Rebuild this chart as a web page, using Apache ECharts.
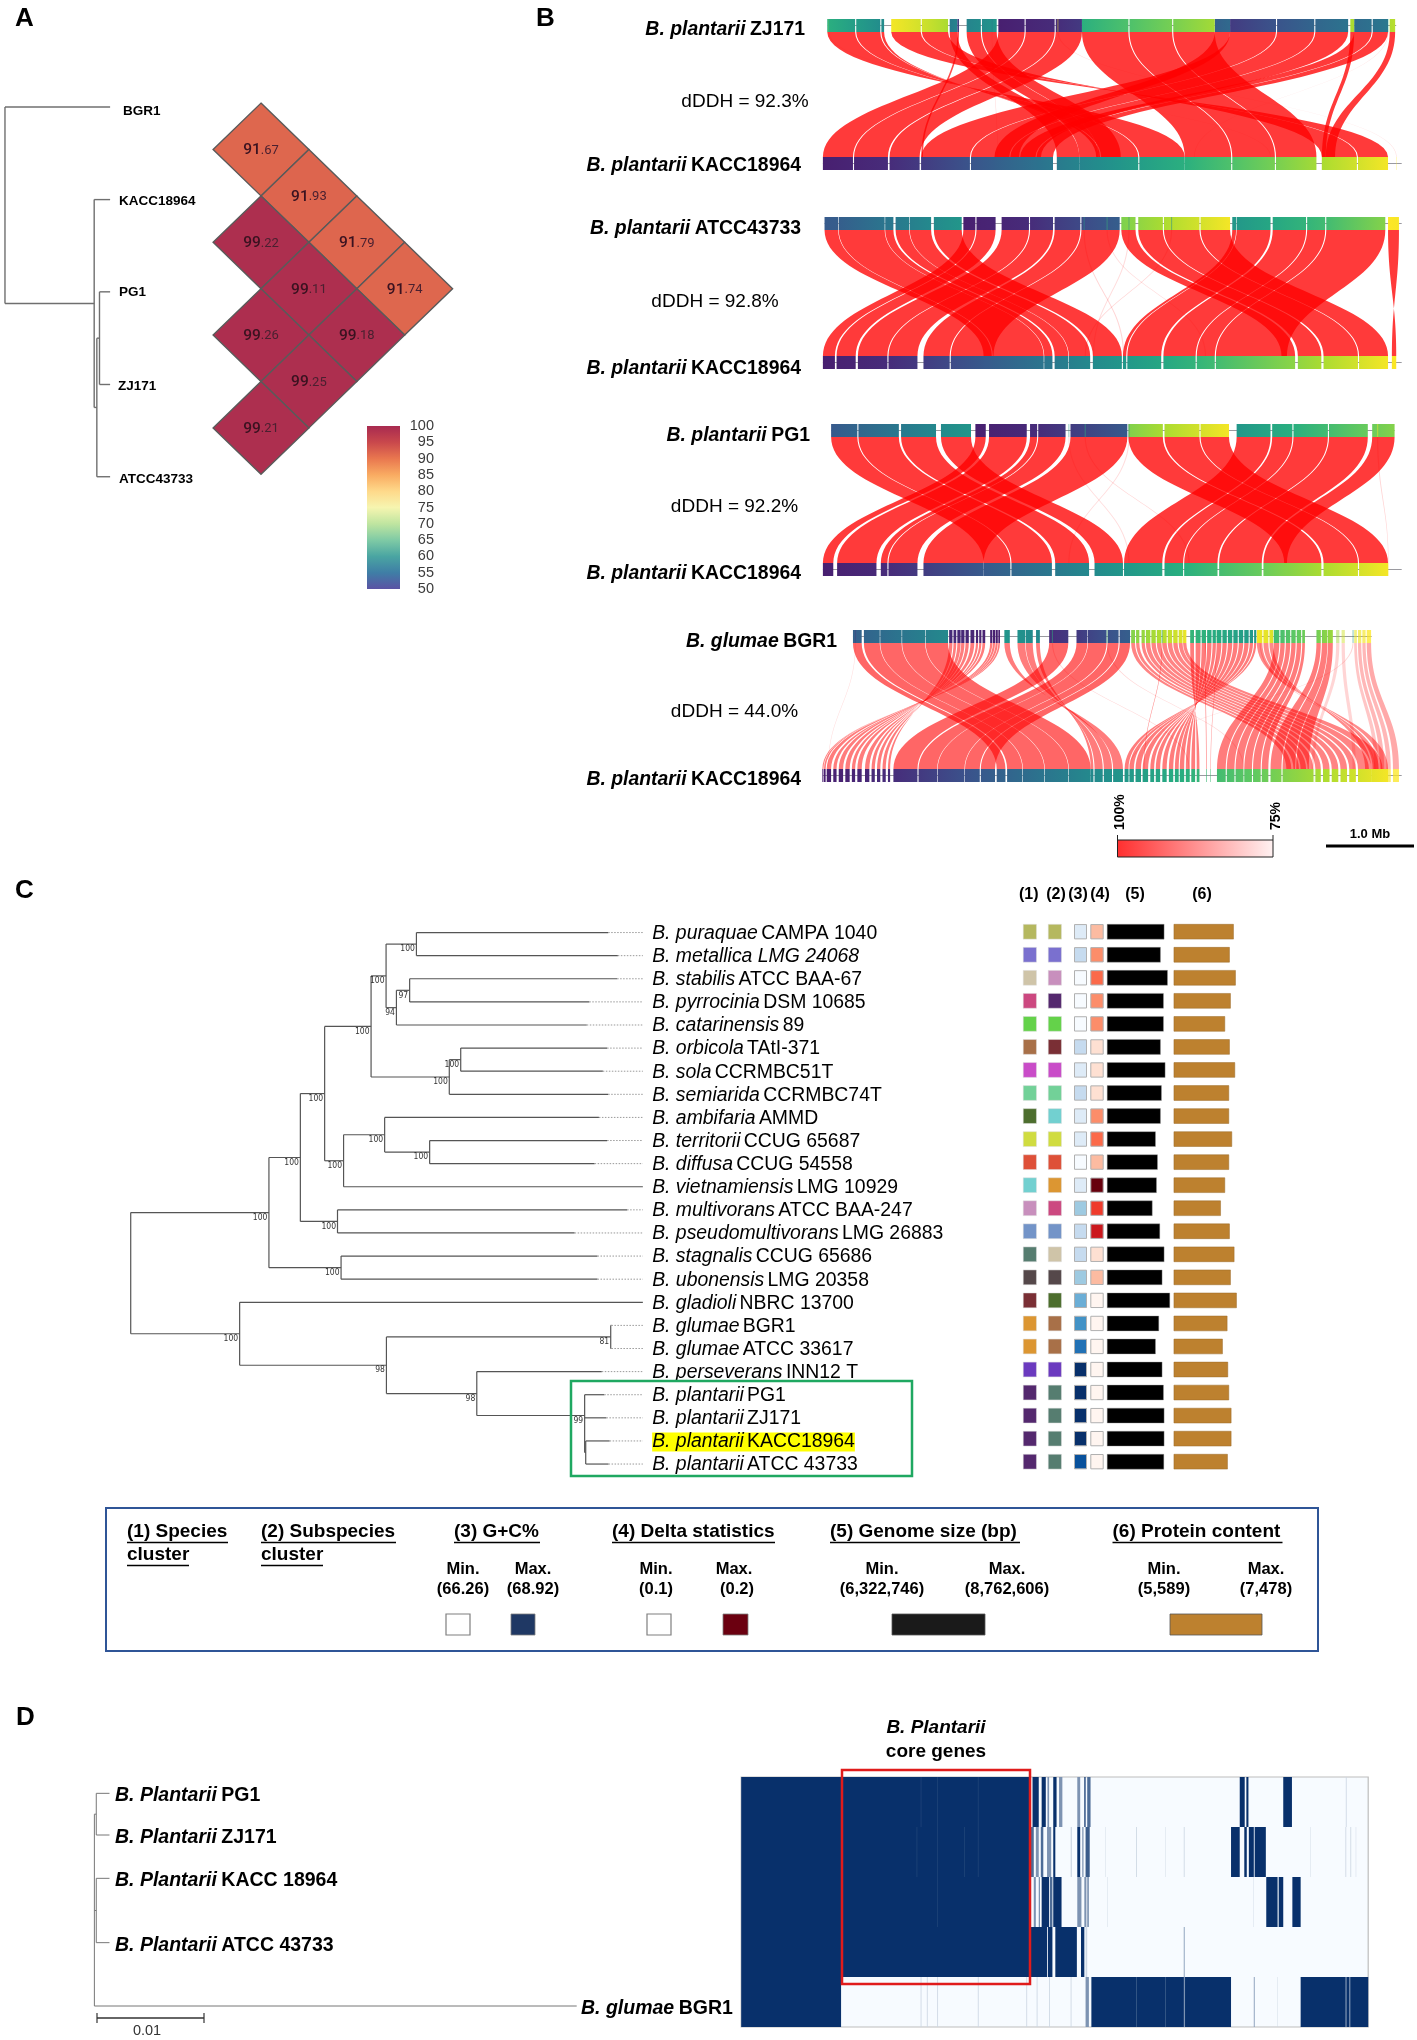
<!DOCTYPE html>
<html><head><meta charset="utf-8">
<script src="https://cdn.jsdelivr.net/npm/echarts@6/dist/echarts.min.js"></script>
<style>html,body{margin:0;padding:0;background:#fff}#c{width:1417px;height:2040px}</style>
</head><body><div id="c"></div>
<script>
/* ---------- Panel A ---------- */
const strainsA = ['BGR1','KACC18964','PG1','ZJ171','ATCC43733'];
const ani = [[0,1,91.67],[0,2,91.93],[0,3,91.79],[0,4,91.74],[1,2,99.22],[1,3,99.11],[1,4,99.18],[2,3,99.26],[2,4,99.25],[3,4,99.21]];
const spectral = ['#5b53a4','#3f7ea6','#4aa5a2','#7fcaa5','#bfe5a0','#f6f5b0','#fed98a','#f9ab62','#e9774f','#c9484c','#a82a50'];
const l = (x,row)=>({x,row});
const n = (x,s,c,y)=>({x,s,c,y});
const treeA = n(15,null,[ {x:332,row:262}, n(284,null,[ {x:332,row:489}, n(292,null,[ n(300,null,[{x:332,row:715},{x:332,row:942}]), {x:332,row:1168} ]) ]) ]);
/* ---------- Panel B: blocks = [query start, query end, reference start, reference end, % identity] (genome bins) ---------- */
const ribbonsZJ171 = [
 [802,850,481,536,99],[852,905,538,600,99],[907,955,603,658,99],
 [489,540,1143,1060,99],[542,586,1058,990,99],[588,593,988,981,99],
 [713,727,909,950,99],[744,770,950,985,99],[772,799,985,1026,99],
 [606,660,1515,1460,99],[662,710,1458,1394,99],
 [1226,1310,661,750,99],[1312,1380,752,822,99],[1382,1442,824,880,99],[1198,1226,795,840,99],[1453,1485,842,870,99],[1487,1515,872,902,99],
 [955,1040,1143,1228,99],[1042,1120,1230,1308,99],[1122,1198,1310,1384,99],
 [1446,1453,1394,1401,99],[1518,1528,1401,1418,99],[727,730,661,664,97],
 [491,492,1300,1301,78],[910,912,1530,1531,77],[1515,1516,1160,1161,77],[790,791,800,801,77]];
const ribbonsATCC = [
 [738,760,481,503,99],[762,797,506,541,99],[808,858,545,599,99],[860,902,601,654,99],[905,952,665,713,99],[954,1024,715,793,99],
 [484,509,775,790,99],[510,594,792,885,99],[595,610,886,901,99],[614,639,905,930,99],[640,679,931,970,99],[684,735,975,1028,99],
 [1027,1053,1320,1345,99],[1058,1103,1350,1393,99],[1105,1170,1397,1460,99],[1172,1226,1462,1515,99],
 [1230,1237,1030,1036,99],[1238,1300,1038,1100,99],[1304,1365,1104,1163,99],[1367,1400,1165,1198,99],[1402,1510,1200,1330,99],
 [1515,1535,1530,1522,99],
 [1118,1120,960,962,78],[958,960,1030,1032,78],[1040,1042,975,977,77],[1000,1002,1180,1182,77]];
const ribbonsPG1 = [
 [760,779,481,500,99],[785,854,507,579,99],[860,873,587,599,99],[875,925,601,654,99],[934,1038,665,775,99],
 [496,544,775,824,99],[546,620,826,900,99],[624,688,906,968,99],[697,752,978,1030,99],
 [1040,1103,1325,1393,99],[1106,1170,1397,1460,99],[1172,1224,1462,1515,99],
 [1238,1300,1032,1102,99],[1303,1340,1106,1140,99],[1342,1405,1142,1203,99],[1407,1478,1206,1284,99],[1486,1527,1287,1330,99],
 [1040,1042,930,932,77],[960,962,1150,1152,78],[1495,1497,1515,1516,78],[930,932,1040,1042,77]];
const ribbonsBGR1 = [
 [536,552,799,815,93],[556,585,818,846,93],[586,625,847,886,93],[626,668,887,930,93],[669,710,931,971,93],
 [712,718,604,600,90],[720,725,596,590,90],[727,733,586,580,90],[734,740,576,570,90],[742,748,566,558,90],[751,758,552,544,90],[761,765,540,534,90],[767,771,530,522,90],[773,778,518,510,90],[787,791,506,500,90],[792,796,496,488,90],[797,801,486,483,90],[802,805,482,480,90],
 [895,930,610,654,93],[945,965,656,690,93],[966,1000,691,740,93],[1002,1022,741,768,93],[1024,1043,770,796,93],
 [813,823,1030,1012,90],[837,851,1010,995,90],[852,865,993,978,90],[871,878,976,971,90],
 [1153,1160,1170,1165,90],[1163,1172,1162,1155,90],[1174,1182,1152,1145,90],[1184,1192,1142,1134,90],[1194,1200,1132,1125,90],[1202,1210,1122,1114,90],[1212,1220,1110,1102,90],[1222,1230,1098,1090,90],[1232,1240,1087,1080,90],[1242,1250,1076,1066,90],[1252,1260,1063,1053,90],[1262,1268,1050,1042,90],[1270,1274,1040,1033,90],
 [1045,1052,1329,1338,89],[1054,1060,1342,1352,89],[1064,1070,1355,1365,89],[1072,1080,1368,1378,89],[1082,1090,1382,1392,89],[1092,1100,1396,1408,89],[1102,1110,1412,1424,89],[1112,1120,1428,1440,89],[1122,1130,1444,1456,89],[1132,1139,1460,1480,89],[1140,1146,1484,1505,89],
 [1275,1285,1515,1502,88],[1287,1296,1498,1487,88],[1298,1305,1484,1473,88],
 [1306,1316,1202,1218,90],[1318,1326,1220,1234,90],[1328,1336,1236,1250,90],[1338,1346,1252,1266,90],[1348,1356,1268,1282,90],[1358,1363,1284,1296,90],[1384,1392,1300,1320,90],[1394,1404,1322,1345,90],[1405,1414,1347,1370,90],
 [1453,1458,1490,1497,80],[1460,1466,1500,1508,82],[1468,1474,1512,1520,82],[1476,1484,1524,1535,84],[1420,1426,1375,1380,78],[1430,1436,1450,1456,78],
 [1180,1181,1182,1183,92],[1200,1201,1190,1191,85],[1000,1002,1250,1252,78],[540,541,490,491,77],[900,902,1150,1152,78],[1101,1102,1068,1069,88],[1280,1282,1490,1492,80],[1450,1452,1040,1042,78]];
const backbones = [[490,1530,481,1540],[484,1540,481,1540],[496,1527,481,1540],[536,1485,481,1540]];
const viridis = ['#481f70','#472d7b','#3b528b','#2c728e','#21918c','#28ae80','#5ec962','#addc30','#fde725'];
/* ---------- Panel C ---------- */
const species = ['B. puraquae','B. metallica LMG 24068','B. stabilis','B. pyrrocinia','B. catarinensis','B. orbicola','B. sola','B. semiarida','B. ambifaria','B. territorii','B. diffusa','B. vietnamiensis','B. multivorans','B. pseudomultivorans','B. stagnalis','B. ubonensis','B. gladioli','B. glumae','B. glumae','B. perseverans','B. plantarii','B. plantarii','B. plantarii','B. plantarii'];
const strains = ['CAMPA 1040','','ATCC BAA-67','DSM 10685','89','TAtI-371','CCRMBC51T','CCRMBC74T','AMMD','CCUG 65687','CCUG 54558','LMG 10929','ATCC BAA-247','LMG 26883','CCUG 65686','LMG 20358','NBRC 13700','BGR1','ATCC 33617','INN12 T','PG1','ZJ171','KACC18964','ATCC 43733'];
const treeC = n(86,null,[
 n(473,100,[
  n(561,100,[
   n(629,100,[
    n(759,100,[
     n(801,100,[ n(886,100,[l(1423,0),l(1450,1)]), n(830,94,[ n(867,97,[l(1448,2),l(1370,3)]), l(1363,4) ]) ]),
     n(978,100,[ n(1010,100,[l(1420,5),l(1408,6)]), l(1423,7) ])
    ]),
    n(682,100,[ n(797,100,[ l(1397,8), n(923,100,[l(1420,9),l(1385,10)]) ]), l(1520,11) ])
   ]),
   n(665,100,[l(1476,12),l(1329,13)])
  ]),
  n(675,100,[l(1393,14),l(1393,15)])
 ]),
 n(391,100,[ l(1520,16),
  n(802,98,[ n(1430,81,[l(1432,17),l(1432,18)]),
   n(1055,98,[ l(1405,19), n(1357,99,[ l(1412,20), l(1418,21), n(1360,null,[l(1427,22),l(1424,23)]) ],20.9) ])
  ])
 ])
]);
const cluster1 = ['#b5b85f','#7a70cf','#cfc4a8','#cc4880','#64d24a','#a87048','#c94cc8','#72d198','#4d6e2e','#d0dc40','#de5038','#72d0d0','#c88fbd','#7394c8','#567d70','#55484a','#7a2f35','#dc9632','#dc9632','#6b3abf','#54286e','#54286e','#54286e','#54286e'];
const cluster2 = ['#b5b85f','#7a70cf','#c88fbd','#54286e','#64d24a','#7a2f35','#c94cc8','#72d198','#72d0d0','#d0dc40','#de5038','#dc9632','#cc4880','#7394c8','#cfc4a8','#55484a','#4d6e2e','#a87048','#a87048','#6b3abf','#567d70','#567d70','#567d70','#567d70'];
const gcPalette = ['#f7fbff','#deebf7','#c6dbef','#9ecae1','#6baed6','#4292c6','#2171b5','#08519c','#08306b'];
const gcLevel = [1,2,0,0,0,2,1,2,1,1,0,1,3,2,2,3,4,5,6,8,8,8,8,7];
const deltaPalette = ['#fff5f0','#fee0d2','#fcbba1','#fc8d6a','#fb6a4a','#ef3b2c','#cb181d','#67000d'];
const deltaLevel = [2,3,4,3,3,1,1,1,3,4,2,7,5,6,1,2,0,0,0,0,0,0,0,0];
const genomeSizeMb = [7.97,7.46,8.44,7.88,7.88,7.46,8.11,7.60,7.46,6.77,7.05,6.91,6.32,7.37,7.97,7.69,8.76,7.23,6.77,7.69,7.88,7.97,7.97,7.93];
const proteinCount = [7122,6647,7359,6766,6093,6647,7280,6568,6568,6924,6568,6093,5589,6647,7201,6766,7478,6370,5816,6449,6568,6845,6845,6410];
/* ---------- Panel D ---------- */
const treeD = n(200,null,[ n(204,null,[{x:232,row:280},{x:232,row:405}]), n(204,null,[{x:232,row:535},{x:232,row:728}]), {x:1222,row:918} ]);
const coreRuns = [
 [[27,722,1],[460,462,.9],[500,502,.9],[598,600,.9],[730,745,1],[752,762,1],[766,770,.5],[780,788,1],[794,802,.5],[838,845,.5],[855,858,1],[862,870,.7],[1230,1242,1],[1246,1251,1],[1335,1356,1],[1486,1488,.2]],
 [[27,722,1],[450,452,.9],[500,502,.9],[565,567,.9],[598,600,.9],[722,733,.7],[738,745,.5],[750,756,.7],[765,775,.5],[780,785,1],[822,825,.2],[838,845,1],[850,853,.5],[858,868,.8],[905,906,.2],[980,982,.2],[1050,1051,.2],[1095,1097,.2],[1209,1230,1],[1241,1247,1],[1252,1264,1],[1266,1293,1],[1400,1401,.2],[1485,1487,.2],[1497,1499,.2],[1510,1511,.2]],
 [[27,722,1],[500,502,.9],[722,725,.7],[733,738,.5],[745,748,.5],[752,770,1],[772,778,.7],[780,800,1],[838,848,.5],[855,860,.5],[862,866,.5],[910,911,.2],[1262,1263,.2],[1294,1322,1],[1324,1335,1],[1320,1321,.2],[1357,1377,1]],
 [[27,722,1],[722,765,1],[767,778,1],[785,837,1],[847,855,1],[858,862,.2],[1095,1097,.5]],
 [[27,268,1],[460,462,.2],[475,477,.2],[500,502,.2],[598,600,.2],[715,717,.2],[740,742,.2],[770,772,.2],[822,824,.2],[858,866,.5],[872,1209,1],[980,982,.8],[1050,1052,.8],[1095,1098,.5],[1264,1266,.5],[1320,1321,.2],[1377,1540,1],[1485,1488,.5],[1494,1497,.5]]
];
const coreLevels = {1:'#08306b',.9:'#1f4478',.8:'#3a5c8a',.7:'#4d6c97',.5:'#7d93b2',.2:'#ccd6e3'};

/* ---------- helpers ---------- */
const F = 'Liberation Sans';
const grids=[], xAxes=[], yAxes=[], series=[], graphic=[];
function addGrid(left,top,width,height,x,y,extra){
  const i=grids.length;
  grids.push(Object.assign({left,top,width,height,show:false,containLabel:false},extra||{}));
  xAxes.push(Object.assign({gridIndex:i,type:'value',show:false,scale:false},x));
  yAxes.push(Object.assign({gridIndex:i,type:'value',show:false,scale:false},y));
  return i;
}
function layoutTree(t){
  const H=[],V=[],tips=[],sup=[];
  (function walk(nd){
    if(!nd.c){nd.y=nd.row;tips.push(nd);return nd.y;}
    const ys=nd.c.map(walk);
    if(nd.y===undefined) nd.y=(ys[0]+ys[ys.length-1])/2;
    V.push([nd.x,ys[0],nd.x,ys[ys.length-1]]);
    nd.c.forEach((c,i)=>H.push([nd.x,ys[i],c.x,ys[i]]));
    if(nd.s) sup.push(nd);
    return nd.y;
  })(t);
  return {segs:H.concat(V),tips,sup};
}
function treeSeries(g,segs,color,w){
  series.push({type:'custom',coordinateSystem:'cartesian2d',xAxisIndex:g,yAxisIndex:g,silent:true,clip:false,animation:false,
    data:segs,renderItem:(p,api)=>{
      const a=api.coord([api.value(0),api.value(1)]),b=api.coord([api.value(2),api.value(3)]);
      return {type:'line',shape:{x1:a[0],y1:a[1],x2:b[0],y2:b[1]},style:{stroke:color,lineWidth:w,fill:null}};
    }});
}
function T(x,y,text,o){
  o=o||{};
  graphic.push({type:'text',x,y:y+(o.rich?1.5:0),rotation:o.rot||0,silent:true,z:50,style:{text,font:o.font||('16px '+F),fill:o.fill||'#000',align:o.align||'left',verticalAlign:'middle',rich:o.rich}});
}
function R(x,y,w,h,fill,stroke,lw){
  graphic.push({type:'rect',silent:true,z:40,shape:{x,y,width:w,height:h},style:{fill:fill||'none',stroke:stroke||'none',lineWidth:lw||0}});
}
function Ln(x1,y1,x2,y2,c,w){
  graphic.push({type:'line',silent:true,z:40,shape:{x1,y1,x2,y2},style:{stroke:c,lineWidth:w}});
}
function hex2(c){return [parseInt(c.slice(1,3),16),parseInt(c.slice(3,5),16),parseInt(c.slice(5,7),16)];}
function vir(pos){
  const t=Math.max(0,Math.min(1,(pos-481)/(1530-481)))*(viridis.length-1);
  const i=Math.min(viridis.length-2,Math.floor(t)),f=t-i,a=hex2(viridis[i]),b=hex2(viridis[i+1]);
  return 'rgb('+a.map((v,k)=>Math.round(v+(b[k]-v)*f)).join(',')+')';
}

/* ---------- Panel A draw ---------- */
const layA=layoutTree(treeA);
const gTreeA=addGrid(0,0,520,640,{min:0,max:1568},{min:0,max:1568,inverse:true});
treeSeries(gTreeA,layA.segs,'#6f6f6f',1.4);
const gDia=addGrid(261,149.5,143.7,278.4,{min:0,max:3},{min:0,max:6,inverse:true});
const diaIdx=series.length;
series.push({type:'custom',coordinateSystem:'cartesian2d',xAxisIndex:gDia,yAxisIndex:gDia,silent:true,clip:false,animation:false,
  dimensions:['u','v','ani'],
  data:ani.map(d=>[d[1]-d[0]-1,d[0]+d[1]-1,d[2]]),
  renderItem:(p,api)=>{
    const u=api.value(0),v=api.value(1),c=api.coord([u,v]);
    const pts=[api.coord([u,v-1]),api.coord([u+1,v]),api.coord([u,v+1]),api.coord([u-1,v])];
    const s=api.value(2).toFixed(2).split('.');
    return {type:'group',children:[
      {type:'polygon',shape:{points:pts},style:{fill:api.visual('color'),stroke:'#5a5a5a',lineWidth:1.4}},
      {type:'text',style:{x:c[0],y:c[1]+1,text:'{a|'+s[0]+'}{b|.'+s[1]+'}',align:'center',verticalAlign:'middle',rich:{a:{fontFamily:'Roboto',fontSize:15.5,fill:'#3a1220',fontWeight:500},b:{fontFamily:'Roboto',fontSize:13,fill:'#4a2030'}}}}
    ]};
  }});
addGrid(367,426,33,163,{min:0,max:1},{min:50,max:100,interval:5,show:true,position:'right',axisLine:{show:false},axisTick:{show:false},splitLine:{show:false},
  axisLabel:{show:true,align:'right',margin:34,fontFamily:F,fontSize:14.5,color:'#3c3c3c',showMinLabel:true,showMaxLabel:true}});
graphic.push({type:'rect',silent:true,z:40,shape:{x:367,y:426,width:33,height:163},style:{fill:new echarts.graphic.LinearGradient(0,1,0,0,spectral.map((c,i)=>({offset:i/(spectral.length-1),color:c})))}});
[[119,201,'KACC18964'],[123,111,'BGR1'],[119,292,'PG1'],[118,386,'ZJ171'],[119,479,'ATCC43733']].forEach(d=>T(d[0],d[1],d[2],{font:'bold 13.5px '+F}));

/* ---------- Panel B draw ---------- */
const rows=[
 {top:32,h:125,blocks:ribbonsZJ171,back:backbones[0]},
 {top:230,h:126,blocks:ribbonsATCC,back:backbones[1]},
 {top:437,h:126,blocks:ribbonsPG1,back:backbones[2]},
 {top:643,h:126,blocks:ribbonsBGR1,back:backbones[3]}];
function alphaOf(id){return 0.08+(id-75)/25*0.72;}
rows.forEach(r=>{
  const g=addGrid(560,r.top,857,r.h,{min:0,max:1568},{min:0,max:1,inverse:true});
  series.push({type:'custom',coordinateSystem:'cartesian2d',xAxisIndex:g,yAxisIndex:g,silent:true,clip:false,animation:false,
    data:r.blocks,renderItem:(p,api)=>{
      const ts=api.value(0),te=api.value(1),bs=api.value(2),be=api.value(3),id=api.value(4);
      const curve=(a,b)=>{const out=[];for(let i=0;i<=36;i++){const t=i/36,
        y=3*t*(1-t)*(1-t)*.45+3*t*t*(1-t)*.55+t*t*t,
        x=a+(b-a)*(3*t*t*(1-t)+t*t*t);out.push(api.coord([x,y]));}return out;};
      const pts=curve(ts,bs).concat(curve(te,be).reverse());
      return {type:'polygon',shape:{points:pts},style:{fill:'rgba(255,0,0,'+alphaOf(id)+')',stroke:null}};
    }});
  series.push({type:'custom',coordinateSystem:'cartesian2d',xAxisIndex:g,yAxisIndex:g,silent:true,clip:false,animation:false,z:3,
    data:[r.back],renderItem:(p,api)=>{
      const a=api.coord([api.value(0),0]),b=api.coord([api.value(1),0]),c=api.coord([api.value(2),1]),d=api.coord([api.value(3),1]);
      return {type:'group',children:[
        {type:'line',shape:{x1:a[0],y1:a[1]-6.5,x2:b[0],y2:b[1]-6.5},style:{stroke:'#9a9aa0',lineWidth:1}},
        {type:'line',shape:{x1:c[0],y1:c[1]+6.5,x2:d[0],y2:d[1]+6.5},style:{stroke:'#9a9aa0',lineWidth:1}}]};
    }});
  series.push({type:'custom',coordinateSystem:'cartesian2d',xAxisIndex:g,yAxisIndex:g,silent:true,clip:false,animation:false,z:4,
    data:r.blocks,renderItem:(p,api)=>{
      const ts=api.value(0),te=api.value(1),bs=api.value(2),be=api.value(3),id=api.value(4);
      const op=id>=88?1:0.35+(id-75)/13*0.6;
      const a=api.coord([ts,0]),b=api.coord([te,0]),c=api.coord([bs,1]),d=api.coord([be,1]);
      const gT=new echarts.graphic.LinearGradient(0,0,1,0,[{offset:0,color:vir(bs)},{offset:1,color:vir(be)}]);
      const gB=new echarts.graphic.LinearGradient(0,0,1,0,[{offset:0,color:vir(Math.min(bs,be))},{offset:1,color:vir(Math.max(bs,be))}]);
      return {type:'group',children:[
        {type:'rect',shape:{x:a[0],y:a[1]-13,width:Math.max(b[0]-a[0],.6),height:13},style:{fill:gT,opacity:op}},
        {type:'rect',shape:{x:Math.min(c[0],d[0]),y:c[1],width:Math.max(Math.abs(d[0]-c[0]),.6),height:13},style:{fill:gB,opacity:op}}]};
    }});
});
const richB={i:{font:'italic bold 19.4px '+F,fill:'#000'},b:{font:'bold 19.4px '+F,fill:'#000'}};
[[805,28,'B. plantarii','ZJ171'],[801,164,'B. plantarii','KACC18964'],[801,227,'B. plantarii','ATCC43733'],[801,367,'B. plantarii','KACC18964'],
 [810,434,'B. plantarii','PG1'],[801,572,'B. plantarii','KACC18964'],[837,640,'B. glumae','BGR1'],[801,778,'B. plantarii','KACC18964']
].forEach(d=>T(d[0],d[1],'{i|'+d[2]+'} {b|'+d[3]+'}',{align:'right',rich:richB}));
[[745,102,'92.3'],[715,302,'92.8'],[734.5,507,'92.2'],[734.5,712,'44.0']].forEach(d=>T(d[0],d[1],'dDDH = '+d[2]+'%',{align:'center',font:'19px '+F}));
graphic.push({type:'rect',silent:true,z:40,shape:{x:1117.5,y:840,width:155.5,height:17},style:{stroke:'#222',lineWidth:1,fill:new echarts.graphic.LinearGradient(0,0,1,0,[{offset:0,color:'#ff2f2f'},{offset:1,color:'#fff2f2'}])}});
Ln(1117.5,835,1117.5,840,'#222',1);Ln(1273,835,1273,840,'#222',1);
T(1120,830,'100%',{rot:Math.PI/2,font:'bold 14px '+F});
T(1276,830,'75%',{rot:Math.PI/2,font:'bold 14px '+F});
T(1370,834,'1.0 Mb',{align:'center',font:'bold 13px '+F});
Ln(1326,846,1414,846,'#000',3);

/* ---------- Panel C draw ---------- */
const layC=layoutTree(treeC);
const gTreeC=addGrid(100,921,560,554.6,{min:0,max:1568},{min:-0.5,max:23.5,inverse:true});
treeSeries(gTreeC,layC.segs,'#555',1.2);
series.push({type:'custom',coordinateSystem:'cartesian2d',xAxisIndex:gTreeC,yAxisIndex:gTreeC,silent:true,clip:false,animation:false,
  data:layC.tips.map(t=>[t.x,t.row]),renderItem:(p,api)=>{
    const a=api.coord([api.value(0),api.value(1)]),b=api.coord([1520,api.value(1)]);
    return {type:'line',shape:{x1:a[0],y1:a[1],x2:b[0],y2:b[1]},style:{stroke:'#999',lineWidth:1,lineDash:[1.5,1.5]}};
  }});
series.push({type:'custom',coordinateSystem:'cartesian2d',xAxisIndex:gTreeC,yAxisIndex:gTreeC,silent:true,clip:false,animation:false,
  data:layC.sup.map(s=>[s.x,s.y,s.s]),renderItem:(p,api)=>{
    const a=api.coord([api.value(0),api.value(1)]);
    return {type:'text',style:{x:a[0]-1.5,y:a[1]+5,text:String(api.value(2)),font:'8.5px "DejaVu Sans Condensed","DejaVu Sans"',fill:'#333',align:'right',verticalAlign:'middle'}};
  }});
series.push({type:'custom',coordinateSystem:'cartesian2d',xAxisIndex:gTreeC,yAxisIndex:gTreeC,silent:true,clip:false,animation:false,
  data:species.map((s,i)=>[1546,i]),renderItem:(p,api)=>{
    const i=api.value(1),a=api.coord([api.value(0),i]);
    const st={x:a[0],y:a[1]+1,text:'{i|'+species[i]+'}'+(strains[i]?' {r|'+strains[i]+'}':''),align:'left',verticalAlign:'middle',
      rich:{i:{font:'italic 19.4px '+F,fill:'#000'},r:{font:'19.4px '+F,fill:'#000'}}};
    if(strains[i]==='KACC18964'){st.backgroundColor='#ffff00';st.padding=[0,0,0,0];}
    return {type:'text',style:st};
  }});
R(571,1381,341,95,null,'#1fa861',2.5);
const rowsCat=species.map((s,i)=>i);
function barCol(left,width,max,data,color,bcolor,bw){
  const g=addGrid(left,920.2,width,553,{min:0,max},{type:'category',data:rowsCat,inverse:true});
  series.push({type:'bar',xAxisIndex:g,yAxisIndex:g,silent:true,animation:false,barWidth:15.3,clip:false,
    itemStyle:{color:color,borderColor:bcolor,borderWidth:bw},data:data});
}
barCol(1023,13.7,1,cluster1.map(c=>({value:1,itemStyle:{color:c}})),'#000','#ddd',.5);
barCol(1048,13.7,1,cluster2.map(c=>({value:1,itemStyle:{color:c}})),'#000','#ddd',.5);
barCol(1074,13,1,gcLevel.map(v=>({value:1,itemStyle:{color:gcPalette[v]}})),'#000','#b0b0b0',1);
barCol(1090.3,13.4,1,deltaLevel.map(v=>({value:1,itemStyle:{color:deltaPalette[v]}})),'#000','#b0b0b0',1);
barCol(1107,63,8.762606,genomeSizeMb,'#000','#999',.4);
barCol(1173.7,63,7478,proteinCount,'#bd812f','#9a6a28',.5);
[['(1)',1028.7],['(2)',1056],['(3)',1078],['(4)',1100],['(5)',1135],['(6)',1202]].forEach(d=>T(d[1],894.5,d[0],{align:'center',font:'bold 16px '+F}));
R(106,1508,1212,143,null,'#2f5597',2);
const lgB='bold 19px '+F;
function UT(x,y,t,w){T(x,y,t,{font:lgB});Ln(x,y+10.5,x+w,y+10.5,'#000',1.4);}
UT(127,1532,'(1) Species',101);UT(127,1555,'cluster',62);
UT(261,1532,'(2) Subspecies',135);UT(261,1555,'cluster',62);
UT(454,1532,'(3) G+C%',86);UT(612,1532,'(4) Delta statistics',163);UT(830,1532,'(5) Genome size (bp)',190);UT(1112.5,1532,'(6) Protein content',170);
const lgS='bold 16.5px '+F;
[[463,'Min.','(66.26)'],[533,'Max.','(68.92)'],[656,'Min.','(0.1)'],[734,'Max.','(0.2)'],[882,'Min.','(6,322,746)'],[1007,'Max.','(8,762,606)'],[1164,'Min.','(5,589)'],[1266,'Max.','(7,478)']].forEach(d=>{
  T(d[0],1569,d[1],{align:'center',font:lgS});T(d[0]+(d[1]==='Max.'&&d[0]===734?3:0),1589,d[2],{align:'center',font:lgS});});
R(446,1614,24,21,'#fff','#7f7f7f',1.2);R(511,1614,24,21,'#1f3864','#7f7f7f',.8);
R(647,1614,24,21,'#fff','#7f7f7f',1.2);R(723,1614,25,21,'#6b0010','#7f7f7f',.8);
R(892,1614,93,21,'#1a1a1a','#555',.8);R(1170,1614,92,21,'#bd812f','#555',.8);

/* ---------- Panel D draw ---------- */
const layD=layoutTree(treeD);
const gTreeD=addGrid(0,1700,740,340,{min:0,max:1568},{min:0,max:1020,inverse:true});
treeSeries(gTreeD,layD.segs,'#777',1);
const richD={i:{font:'italic bold 19.5px '+F,fill:'#000'},b:{font:'bold 19.5px '+F,fill:'#000'}};
[[115,1794,'B. Plantarii','PG1'],[115,1836,'B. Plantarii','ZJ171'],[115,1879,'B. Plantarii','KACC 18964'],[115,1944,'B. Plantarii','ATCC 43733'],[581,2007,'B. glumae','BGR1']]
 .forEach(d=>T(d[0],d[1],'{i|'+d[2]+'} {b|'+d[3]+'}',{rich:richD}));
Ln(97,2018,204,2018,'#333',1.6);Ln(97,2013,97,2023,'#333',1.2);Ln(204,2013,204,2023,'#333',1.2);
T(147,2031,'0.01',{align:'center',font:'14.5px '+F,fill:'#333'});
const gHeat=addGrid(741.2,1777,627,250,{min:27,max:1540},{min:0,max:5,inverse:true},{show:true,backgroundColor:'#f7fbff',borderColor:'#bdbdbd',borderWidth:1.2});
const heatData=[];coreRuns.forEach((runs,r)=>runs.forEach(u=>heatData.push([u[0],u[1],r,u[2]])));
series.push({type:'custom',coordinateSystem:'cartesian2d',xAxisIndex:gHeat,yAxisIndex:gHeat,silent:true,animation:false,clip:false,
  data:heatData,renderItem:(p,api)=>{
    const a=api.coord([api.value(0),api.value(2)]),b=api.coord([api.value(1),api.value(2)+1]);
    return {type:'rect',shape:{x:a[0],y:a[1],width:b[0]-a[0],height:b[1]-a[1]},style:{fill:coreLevels[api.value(3)]}};
  }});
R(842,1770,188,214,null,'#e01b1b',2.5);
T(936,1728,'B. Plantarii',{align:'center',font:'italic bold 19px '+F});
T(936,1752,'core genes',{align:'center',font:'bold 19px '+F});

[['A',15,19],['B',536,19],['C',15,891],['D',16,1718]].forEach(d=>T(d[1],d[2],d[0],{font:'bold 26px '+F}));

const chart=echarts.init(document.getElementById('c'),null,{renderer:'canvas',width:1417,height:2040});
chart.setOption({
  animation:false,backgroundColor:'#fff',
  grid:grids,xAxis:xAxes,yAxis:yAxes,series,
  graphic:{elements:graphic},
  visualMap:[{type:'continuous',show:false,seriesIndex:diaIdx,dimension:2,min:50,max:100,inRange:{color:spectral}}]
});
</script></body></html>
